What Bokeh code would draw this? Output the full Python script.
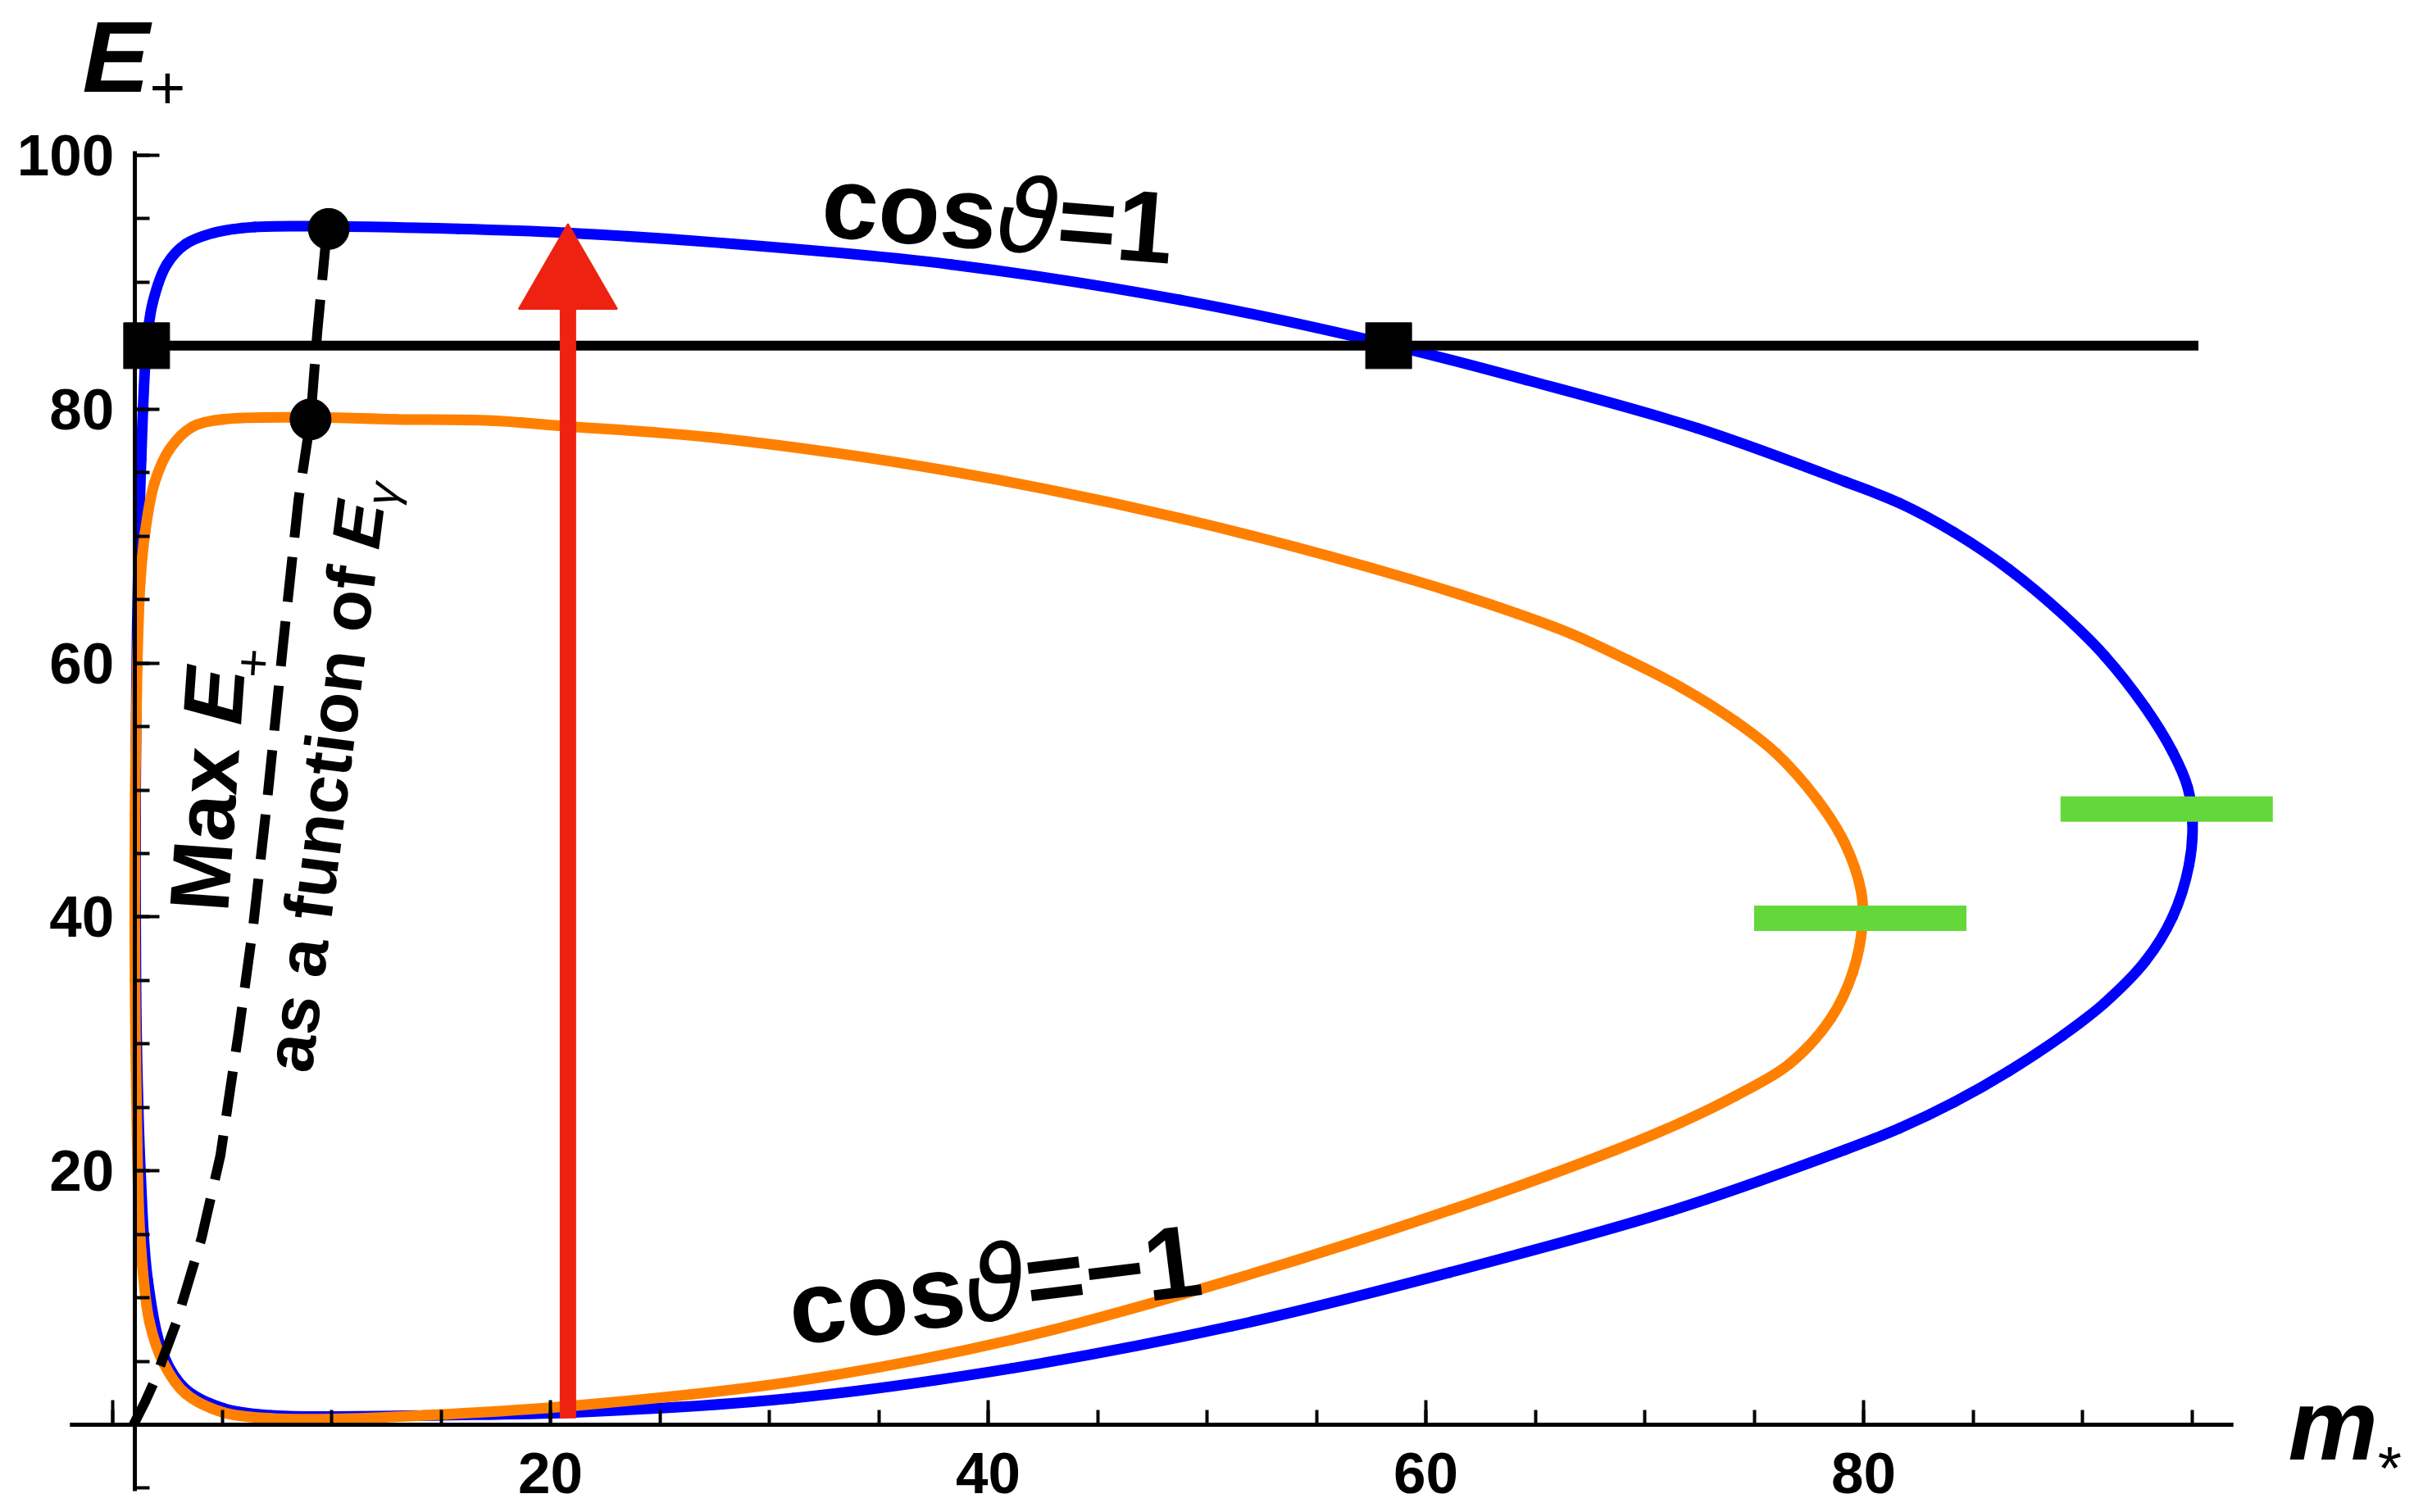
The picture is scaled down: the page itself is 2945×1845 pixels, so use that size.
import numpy as np
from bokeh.plotting import figure
from bokeh.models import LinearAxis, FixedTicker, Range1d, Label
from bokeh.embed import file_html
from bokeh.resources import INLINE

# ---------------- data ----------------
# E_gamma ~ 95 loop (blue), clockwise from upper-left
blue_x = [1.12, 1.30, 1.55, 1.83, 2.47, 3.33, 4.64, 6.49, 9.84, 15.8, 20.6, 27.8, 38.3,
          48.8, 58.3, 64.6, 72.4, 79.14, 81.64, 84.13, 86.63, 89.13, 91.0, 92.87, 94.12,
          94.81, 95.03, 94.87, 94.12, 92.87, 91.0, 89.13, 86.63, 84.13, 81.64, 79.14,
          71.2, 61.1, 51.1, 41.1, 31.1, 21.1, 15.0, 10.1, 7.2, 5.05,
          3.33, 2.34, 1.6, 1.27, 1.1, 1.05, 1.05]
blue_y = [63.1, 76.0, 85.1, 88.4, 91.4, 93.0, 93.9, 94.35, 94.4, 94.2, 93.9, 93.1, 91.4,
          88.6, 85.1, 82.3, 78.5, 74.3, 72.6, 70.3, 67.4, 63.8, 60.6, 56.5, 53.0,
          50.2, 47.4, 44.1, 40.0, 36.5, 33.2, 30.7, 27.85, 25.4, 23.35, 21.65,
          16.85, 12.0, 7.75, 4.45, 2.1, 0.97, 0.75, 0.65, 0.74, 1.3,
          2.8, 5.4, 11.4, 20.0, 30.0, 40.0, 50.0]

# E_gamma ~ 80 loop (orange)
orange_x = [1.12, 1.26, 1.48, 1.91, 2.62, 3.63, 5.05, 9.04, 12.9, 17.3, 20.4, 27.8, 38.3,
            48.8, 59.3, 64.16, 66.65, 69.15, 71.65, 74.15, 76.0, 77.9, 79.14, 79.89,
            79.95, 79.5, 78.5, 76.6, 74.15, 71.65, 68.6, 61.1, 51.1, 41.1, 31.1, 21.1, 15.0,
            10.1, 7.2, 5.05, 3.33, 2.34, 1.68, 1.26, 1.12, 1.02, 1.02]
orange_y = [59.8, 66.4, 70.3, 74.2, 76.9, 78.6, 79.2, 79.35, 79.2, 79.1, 78.7, 77.7, 75.1,
            71.4, 66.6, 63.9, 62.3, 60.3, 58.1, 55.4, 52.9, 49.2, 45.8, 42.0,
            39.5, 35.6, 32.0, 28.4, 25.9, 23.8, 21.6, 16.9, 11.4, 6.7, 3.4, 1.5, 0.8,
            0.45, 0.5, 0.97, 2.45, 4.8, 8.1, 14.7, 22.0, 35.0, 48.0]

# "Max E+ as a function of E_gamma" (dashed)
dash_x = [0.95, 1.48, 1.91, 2.91, 4.06, 4.92, 5.77, 6.42, 7.06, 7.78, 8.49, 9.04, 9.35, 9.71, 9.87]
dash_y = [0.0, 1.8, 3.44, 8.07, 14.7, 21.2, 31.1, 39.3, 49.2, 61.4, 72.9, 79.2, 86.1, 92.7, 94.2]

dots_x = [9.87, 9.04]
dots_y = [94.2, 79.2]

hline_x = [1.55, 95.3]
hline_y = [85.0, 85.0]
squares_x = [1.55, 58.3]
squares_y = [85.0, 85.0]

arrow_x = 20.8
arrow_y_start = 0.5
arrow_y_end = 94.0

green_x0 = [75.0, 89.0]
green_x1 = [84.7, 98.7]
green_y = [39.9, 48.5]

x_major = [20, 40, 60, 80]
x_origin_tick = [0]
x_minor = [0, 5, 10, 15, 20, 25, 30, 35, 40, 45, 50, 55, 60, 65, 70, 75, 80, 85, 90, 95]
y_major = [20, 40, 60, 80, 100]
y_minor = [-5, 0, 5, 10, 15, 20, 25, 30, 35, 40, 45, 50, 55, 60, 65, 70, 75, 80, 85, 90, 95, 100]

# ---------------- layout ----------------
W, H = 2945, 1845
PX_X0, PX_PER_X = 137.0, 26.7      # pixel of m*=0, pixels per unit
PX_Y0, PX_PER_Y = 1738.0, 15.49    # pixel of E+=0, pixels per unit

BLUE = "#0000FF"
ORANGE = "#FF8000"
RED = "#EE2211"
GREEN = "#64D83A"
FONT = "Liberation Sans"

p = figure(width=W, height=H,
           x_range=Range1d(-PX_X0 / PX_PER_X, (W - PX_X0) / PX_PER_X),
           y_range=Range1d(-(H - PX_Y0) / PX_PER_Y, PX_Y0 / PX_PER_Y),
           x_axis_type=None, y_axis_type=None,
           toolbar_location=None, output_backend="svg", min_border=0)
p.outline_line_color = None
p.background_fill_color = "white"
p.border_fill_color = "white"


def style_axis(ax):
    ax.axis_line_width = 5
    ax.axis_line_color = "black"
    ax.major_tick_line_width = 4
    ax.minor_tick_line_width = 4
    ax.major_tick_in = 30
    ax.major_tick_out = 0
    ax.minor_tick_in = 18
    ax.minor_tick_out = 0
    ax.major_label_text_font = FONT
    ax.major_label_text_font_style = "bold"
    ax.major_label_text_font_size = "71px"
    ax.major_label_text_color = "black"


xax = LinearAxis(ticker=FixedTicker(ticks=x_major, minor_ticks=x_minor),
                 fixed_location=0, bounds=(-1.95, 96.9))
style_axis(xax)
xax.major_label_standoff = 34
p.add_layout(xax, "below")

# long (unlabelled) tick at m*=0
xax0 = LinearAxis(ticker=FixedTicker(ticks=x_origin_tick, minor_ticks=[]),
                  fixed_location=0, bounds=(-1.95, 96.9))
style_axis(xax0)
xax0.major_label_text_alpha = 0.0
p.add_layout(xax0, "below")

yax = LinearAxis(ticker=FixedTicker(ticks=y_major, minor_ticks=y_minor),
                 fixed_location=1.0, bounds=(-5.2, 100.3))
style_axis(yax)
yax.major_label_standoff = 25
p.add_layout(yax, "left")


# ---------------- curves: smooth (centripetal Catmull-Rom) closed loops through the read points
def smooth_loop(xs, ys, color, width, alpha=0.5):
    P = np.column_stack([xs, ys]).astype(float)
    n = len(P)
    i = np.arange(n)
    p0, p1, p2, p3 = P[(i - 1) % n], P[i], P[(i + 1) % n], P[(i + 2) % n]
    scale = np.array([PX_PER_X, PX_PER_Y])

    def knot(a, b):
        d = np.hypot(*((b - a) * scale).T)
        return np.maximum(d, 1e-6) ** alpha

    d0, d1, d2 = knot(p0, p1)[:, None], knot(p1, p2)[:, None], knot(p2, p3)[:, None]
    m1 = (p1 - p0) / d0 - (p2 - p0) / (d0 + d1) + (p2 - p1) / d1
    m2 = (p2 - p1) / d1 - (p3 - p1) / (d1 + d2) + (p3 - p2) / d2
    m1 *= d1
    m2 *= d1
    c0 = p1 + m1 / 3.0
    c1 = p2 - m2 / 3.0
    p.bezier(x0=p1[:, 0], y0=p1[:, 1], x1=p2[:, 0], y1=p2[:, 1],
             cx0=c0[:, 0], cy0=c0[:, 1], cx1=c1[:, 0], cy1=c1[:, 1],
             line_color=color, line_width=width, line_cap="round")


smooth_loop(blue_x, blue_y, BLUE, 13)
smooth_loop(orange_x, orange_y, ORANGE, 13)
p.line(hline_x, hline_y, line_color="black", line_width=12)

# red arrow: shaft + head (head drawn as a triangle marker whose tip sits at arrow_y_end)
HEAD = 120
head_center = arrow_y_end - (HEAD / 2) / PX_PER_Y
p.segment(x0=[arrow_x], y0=[arrow_y_start], x1=[arrow_x], y1=[head_center],
          line_color=RED, line_width=20)
p.scatter([arrow_x], [head_center], marker="triangle", size=HEAD,
          fill_color=RED, line_color=RED, line_width=2)

p.line(dash_x, dash_y, line_color="black", line_width=12, line_dash="55 24")
p.scatter(dots_x, dots_y, marker="circle", size=50, fill_color="black", line_color="black")
p.scatter(squares_x, squares_y, marker="square", size=56, fill_color="black", line_color="black")
p.segment(x0=green_x0, y0=green_y, x1=green_x1, y1=green_y, line_color=GREEN, line_width=31)

# ---------------- texts ----------------
BOLD_W = {" ": .278, "a": .556, "c": .556, "e": .556, "f": .333, "i": .278, "n": .611,
          "o": .611, "s": .556, "t": .333, "u": .611, "x": .556, "M": .833, "E": .667,
          "=": .584, "1": .556, "\u2212": .584, "+": .584, "m": .889}
BASE_FIX = 0.35   # empirical baseline correction (fraction of font size)


def adv(text, extra=0.0):
    return sum(BOLD_W.get(ch, 0.6) for ch in text) + extra


def runs(x, y, angle_deg, parts):
    th = float(np.radians(angle_deg))
    along = 0.0
    for text, size, style, font, a_em, drop in parts:
        d = drop - BASE_FIX * size
        dxs = along * np.cos(th) + d * np.sin(th)
        dys = -along * np.sin(th) + d * np.cos(th)
        px = float(x + dxs / PX_PER_X)
        py = float(y - dys / PX_PER_Y)
        p.add_layout(Label(x=px, y=py, x_units="data", y_units="data", text=text.strip(),
                           angle=th, angle_units="rad",
                           text_font=font, text_font_size=f"{size}px", text_font_style=style,
                           text_align="left", text_baseline="alphabetic", text_color="black"))
        along += a_em * size


THETA_FONT = "DejaVu Sans"

# axis titles
runs(-1.39, 105.0, 0, [("E", 123, "bold italic", FONT, adv("E"), 0),
                       ("+", 75, "normal", FONT, .584, 22)])
runs(99.4, -2.78, 0, [("m", 123, "bold italic", FONT, adv("m"), 0),
                      ("*", 75, "normal", FONT, .39, 36)])

# cos labels
runs(32.3, 93.6, -4.5, [("cos", 124, "bold", FONT, adv("cos"), 0),
                        ("\u03d1", 124, "italic", THETA_FONT, .6, 0),
                        ("=1", 124, "bold", FONT, adv("=1"), 0)])
runs(31.1, 6.26, 7.0, [("cos", 125, "bold", FONT, adv("cos"), 0),
                       ("\u03d1", 125, "italic", THETA_FONT, .6, 0),
                       ("=\u22121", 125, "bold", FONT, adv("=\u22121"), 0)])

# rotated annotation along the dashed curve
runs(9.1, 27.6, 82.7, [("as a function of", 84, "bold", FONT, adv("as a function of "), 0),
                       ("E", 84, "bold italic", FONT, .66, 0),
                       ("\u03b3", 55, "italic", FONT, .5, 15)])
runs(5.28, 40.3, 86.0, [("Max", 103, "bold", FONT, adv("Max "), 0),
                        ("E", 103, "bold italic", FONT, .58, 0),
                        ("+", 61, "normal", FONT, .584, 30)])

open("out.html", "w").write(file_html(p, INLINE))
